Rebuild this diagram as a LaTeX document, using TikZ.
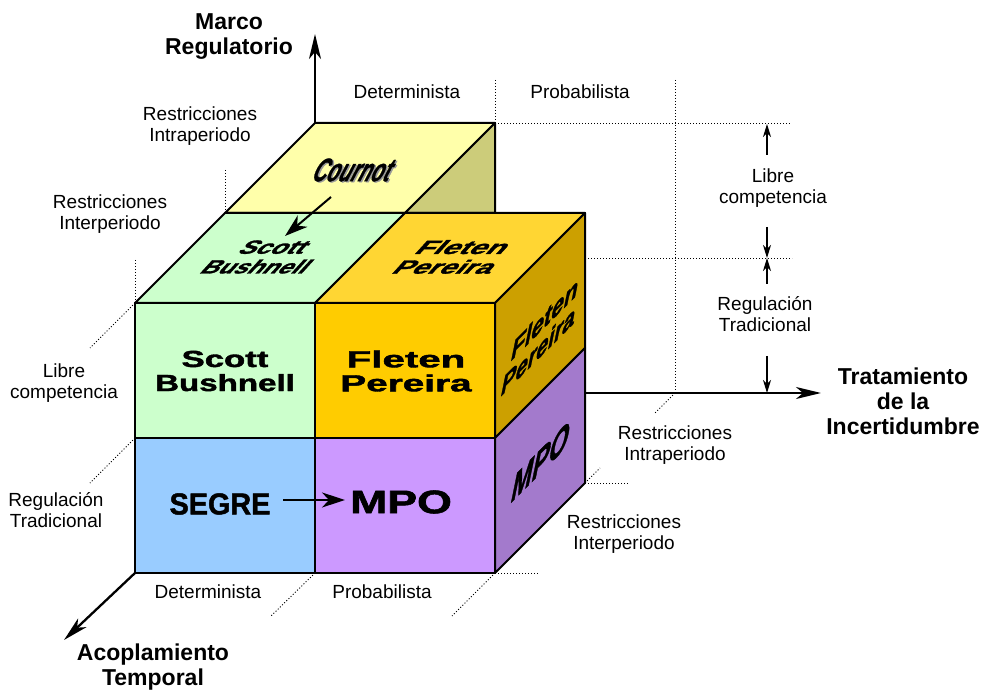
\documentclass[tikz,border=0pt]{standalone}
\usepackage{fontspec}
\setmainfont{Liberation Sans}
% heavier face for the lettering on the blocks
\newfontfamily\heavyfont{Liberation Sans}[BoldFeatures={FakeBold=1.6}, BoldItalicFeatures={FakeBold=1.2}]
\usetikzlibrary{arrows.meta}

\definecolor{cournotTop}{HTML}{FFFFAA}
\definecolor{cournotSide}{HTML}{CCCC7A}
\definecolor{scottFace}{HTML}{CCFFCC}
\definecolor{fletenTop}{HTML}{FFD633}
\definecolor{fletenFront}{HTML}{FFCC00}
\definecolor{fletenSide}{HTML}{CCA000}
\definecolor{segreFace}{HTML}{99CCFF}
\definecolor{mpoFront}{HTML}{CC99FF}
\definecolor{mpoSide}{HTML}{A37ACC}

% horizontal stretch of a single line of text
\newcommand\stretchx[2]{\scalebox{#1}[1]{#2}}

\tikzset{
  face/.style={draw=black, line width=2pt, line join=round},
  guide/.style={line width=0.9pt, dash pattern=on 1pt off 2pt},
  axis/.style={line width=2.3pt, -{Stealth[length=25pt,width=12pt,inset=7pt]}},
  tick/.style={line width=1.4pt, -{Stealth[length=13pt,width=8pt,inset=4pt]}},
  flow/.style={line width=2pt, -{Stealth[length=23pt,width=15pt,inset=7pt]}},
  lab/.style={font=\fontsize{19}{21.7}\selectfont, align=center, inner sep=0pt},
  axlab/.style={font=\fontsize{23}{25}\selectfont\bfseries, align=center, inner sep=0pt},
  wide/.style={font=\fontsize{23.3}{24}\selectfont\heavyfont\bfseries, align=center, inner sep=0pt},
  tall/.style={font=\fontsize{30.3}{32}\selectfont\heavyfont\bfseries, inner sep=0pt},
  mpofont/.style={font=\fontsize{32.6}{34}\selectfont\heavyfont\bfseries, inner sep=0pt},
  cournotfont/.style={font=\fontsize{31}{32}\selectfont\heavyfont\bfseries\itshape, inner sep=0pt},
  ontop/.style={cm={0.75,0,0.75,0.82,(0,0)}},
  onside/.style={cm={0.56,0.56,0.27,1.32,(0,0)}},
  cournotshape/.style={cm={0.64,0,0.42,1.05,(0,0)}}
}

\begin{document}
\begin{tikzpicture}[x=1pt,y=-1pt]
\useasboundingbox[fill=white] (0,0) rectangle (989,695);

% ---- guide lines (dotted) ----
\draw[guide] (495,80) -- (495,123);
\draw[guide] (675,80) -- (675,393);
\draw[guide] (495,123) -- (790,123);
\draw[guide] (585,258) -- (792,258);
\draw[guide] (585,483) -- (628,483);
\draw[guide] (495,573) -- (538,573);
\draw[guide] (675,393) -- (655,413);
\draw[guide] (585,483) -- (600,468);
\draw[guide] (495,573) -- (452,616);
\draw[guide] (315,573) -- (270,617);
\draw[guide] (135,438) -- (90,483);
\draw[guide] (135,303) -- (90,348);
\draw[guide] (135,260) -- (135,303);
\draw[guide] (225,170) -- (225,213);

% ---- axes ----
\coordinate (vbase) at (315,123);
\coordinate (vtip)  at (315,34);
\coordinate (hbase) at (585,393);
\coordinate (htip)  at (821,393);
\coordinate (dbase) at (135,573);
\coordinate (dtip)  at (64,640);
\draw[axis] (vbase) -- (vtip);
\draw[axis] (hbase) -- (htip);
\draw[axis] (dbase) -- (dtip);

% ---- back layer: Cournot ----
\path[face, fill=cournotTop] (225,213) -- (315,123) -- (495,123) -- (405,213) -- cycle;
\path[face, fill=cournotSide] (405,213) -- (495,123) -- (495,213) -- cycle;

% ---- front layer: top faces ----
\path[face, fill=scottFace] (135,303) -- (225,213) -- (405,213) -- (315,303) -- cycle;
\path[face, fill=fletenTop] (315,303) -- (405,213) -- (585,213) -- (495,303) -- cycle;

% ---- front faces ----
\path[face, fill=scottFace]   (135,303) rectangle (315,438);
\path[face, fill=fletenFront] (315,303) rectangle (495,438);
\path[face, fill=segreFace]   (135,438) rectangle (315,573);
\path[face, fill=mpoFront]    (315,438) rectangle (495,573);

% ---- right faces ----
\path[face, fill=fletenSide] (495,303) -- (585,213) -- (585,348) -- (495,438) -- cycle;
\path[face, fill=mpoSide]    (495,438) -- (585,348) -- (585,483) -- (495,573) -- cycle;

% ---- texts on the faces ----
\node[cournotfont, cournotshape, text=black!40] (cournotShade) at (355.5,171) {Cournot};
\node[cournotfont, cournotshape] (cournot) at (354,170) {Cournot};

\node[wide, ontop] (sbTop) at (266,257) {\stretchx{1.49}{Scott}\\\stretchx{1.42}{Bushnell}};
\node[wide, ontop] (fpTop) at (455,257) {\stretchx{1.73}{Fleten}\\\stretchx{1.66}{Pereira}};

\node[wide] (sbFront) at (225,371) {\stretchx{1.49}{Scott}\\\stretchx{1.42}{Bushnell}};
\node[wide] (fpFront) at (406,371) {\stretchx{1.73}{Fleten}\\\stretchx{1.66}{Pereira}};
\node[tall] (segre) at (220,504) {\stretchx{0.95}{SEGRE}};
\node[mpofont] (mpoFront) at (401,502) {\stretchx{1.37}{MPO}};

\node[wide, onside] (fpSide) at (542,334) {\stretchx{1.73}{Fleten}\\\stretchx{1.66}{Pereira}};
\node[mpofont, onside] (mpoSide) at (541,461) {\stretchx{1.37}{MPO}};

% ---- model links ----
\coordinate (cournotOut) at (331,197);
\coordinate (sbIn) at (285,236);
\draw[flow] (cournotOut) -- (sbIn);
\coordinate (segreOut) at (283,500);
\coordinate (mpoIn) at (345,500);
\draw[flow] (segreOut) -- (mpoIn);

% ---- level markers on the right ----
\coordinate (lcLow) at (767,155);  \coordinate (lcTop) at (767,124);
\coordinate (lcUp)  at (767,227);  \coordinate (midLv) at (767,258);
\coordinate (rtUp)  at (767,284);  \coordinate (rtLow) at (767,356);
\coordinate (rtBot) at (767,393);
\draw[tick] (lcLow) -- (lcTop);
\draw[tick] (lcUp) -- (midLv);
\draw[tick] (rtUp) -- (midLv);
\draw[tick] (rtLow) -- (rtBot);

% ---- labels ----
\node[lab] (detTop)  at (407,92)  {Determinista};
\node[lab] (probTop) at (580,92)  {Probabilista};
\node[lab] (intraL)  at (200,126) {Restricciones\\Intraperiodo};
\node[lab] (interL)  at (110,214) {Restricciones\\Interperiodo};
\node[lab] (libreL)  at (64,383)  {Libre\\competencia};
\node[lab] (regL)    at (56,510)  {Regulación\\Tradicional};
\node[lab] (detBot)  at (208,592) {Determinista};
\node[lab] (probBot) at (382,592) {Probabilista};
\node[lab] (interR)  at (624,534) {Restricciones\\Interperiodo};
\node[lab] (intraR)  at (675,445) {Restricciones\\Intraperiodo};
\node[lab] (libreR)  at (773,188) {Libre\\competencia};
\node[lab] (regR)    at (765,314) {Regulación\\Tradicional};

\node[axlab] (marco) at (229,37)  {Marco\\Regulatorio};
\node[axlab] (trat)  at (903,401) {Tratamiento\\de la\\Incertidumbre};
\node[axlab] (acop)  at (153,667) {Acoplamiento\\Temporal};
\end{tikzpicture}
\end{document}
